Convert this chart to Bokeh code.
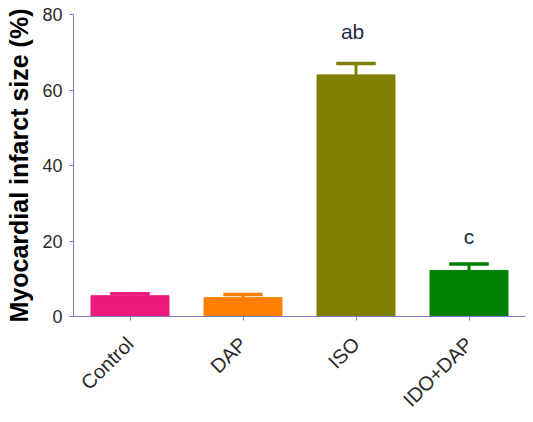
from bokeh.plotting import figure
from bokeh.models import ColumnDataSource, FactorRange, Range1d, FixedTicker, Label
from bokeh.transform import dodge
from bokeh.embed import file_html
from bokeh.resources import INLINE
import math

groups = ["Control", "DAP", "ISO", "IDO+DAP"]
means = [5.5, 5.0, 64.0, 12.2]
errors = [0.5, 0.8, 3.0, 1.7]
colors = ["#ec1a7c", "#ff8000", "#808000", "#008000"]
annotations = ["", "", "ab", "c"]
annot_y = [0, 0, 75.5, 21.3]
annot_dx = [0, 0, -0.03, 0.0]

src = ColumnDataSource(dict(
    g=groups, m=means,
    top=[m + e for m, e in zip(means, errors)],
    c=colors,
))

p = figure(x_range=FactorRange(*groups, range_padding=0), y_range=Range1d(0, 80),
           width=533, height=422, output_backend="svg", toolbar_location=None,
           min_border_left=73, min_border_right=8, min_border_top=14, min_border_bottom=106)
p.outline_line_color = None
p.grid.grid_line_color = None
p.background_fill_color = "white"
p.border_fill_color = "white"

p.vbar(x="g", top="m", bottom=0, width=0.69, fill_color="c", line_color="c", source=src)
p.segment(x0="g", y0="m", x1="g", y1="top", line_color="c", line_width=3, source=src)
p.segment(x0=dodge("g", -0.175, range=p.x_range), y0="top",
          x1=dodge("g", 0.175, range=p.x_range), y1="top",
          line_color="c", line_width=3.5, source=src)

for i, (a, yv, dx) in enumerate(zip(annotations, annot_y, annot_dx)):
    if a:
        p.add_layout(Label(x=i + 0.5 + dx, y=yv, text=a, text_align="center",
                           text_baseline="middle", text_font_size="21px",
                           text_font="Liberation Sans", text_color="#1f2a44"))

axis_col = "#7b7bc8"
p.yaxis.ticker = FixedTicker(ticks=[0, 20, 40, 60, 80])
p.yaxis.axis_label = "Myocardial infarct size (%)"
p.yaxis.axis_label_text_font = "Liberation Sans"
p.yaxis.axis_label_text_font_style = "bold"
p.yaxis.axis_label_text_font_size = "25px"
p.yaxis.axis_label_text_color = "black"
p.yaxis.axis_label_standoff = 6
p.axis.axis_line_color = axis_col
p.axis.major_tick_line_color = axis_col
p.axis.minor_tick_line_color = None
p.axis.major_tick_in = 0
p.axis.major_tick_out = 4
p.axis.major_label_text_font = "Liberation Sans"
p.axis.major_label_text_font_size = "18px"
p.axis.major_label_text_color = "#2a2a2a"
p.yaxis.major_label_standoff = 7
p.xaxis.major_label_orientation = math.pi / 4
p.xaxis.major_label_text_font_size = "20px"
p.xaxis.major_label_standoff = 20

open("out.html", "w").write(file_html(p, INLINE))
